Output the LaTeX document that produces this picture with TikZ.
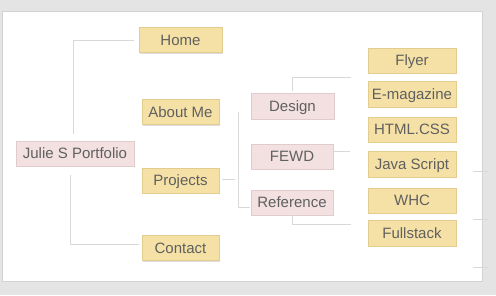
\documentclass[tikz,border=0pt]{standalone}
\usepackage{fontspec}
\setmainfont{Liberation Sans}
\usetikzlibrary{shadows}
\definecolor{pagebg}{HTML}{E4E4E4}
\definecolor{panelline}{HTML}{D2D2D2}
\definecolor{linkgray}{HTML}{D8D8D8}
\definecolor{txtgray}{HTML}{606060}
\definecolor{sandfill}{HTML}{F5E1A5}
\definecolor{sandline}{HTML}{E3CD8E}
\definecolor{rosefill}{HTML}{F3E0E1}
\definecolor{roseline}{HTML}{E2CBCC}
\tikzset{
  box/.style={draw, line width=0.8pt, inner sep=0pt, minimum height=25pt,
    text height=10.7pt, text depth=0pt,
    text=txtgray, font=\fontsize{15}{17}\selectfont,
    drop shadow={shadow xshift=0.8pt, shadow yshift=-1pt, fill=black!25, opacity=0.5}},
  sandbox/.style={box, fill=sandfill, draw=sandline},
  rosebox/.style={box, fill=rosefill, draw=roseline},
  conn/.style={draw=linkgray, line width=0.9pt},
}
\begin{document}
\begin{tikzpicture}[x=1pt, y=-1pt]
  % canvas and white panel
  \fill[pagebg] (0,0) rectangle (496,295);
  \useasboundingbox (0,0) rectangle (496,295);
  \filldraw[fill=white, draw=panelline, line width=0.8pt] (2,11) rectangle (482,281);

  % root
  \node[rosebox, minimum width=118pt] (julie) at (75,153.5) {Julie S Portfolio};

  % first level
  \node[sandbox, minimum width=83pt] (home) at (180.5,40) {Home};
  \node[sandbox, minimum width=77pt] (about) at (180.5,112) {About Me};
  \node[sandbox, minimum width=77pt] (projects) at (180.5,180.5) {Projects};
  \node[sandbox, minimum width=77pt] (contact) at (180.5,248) {Contact};

  % projects branch
  \node[rosebox, minimum width=83pt, minimum height=26pt] (design) at (292.5,106) {Design};
  \node[rosebox, minimum width=82pt] (fewd) at (292,156.5) {FEWD};
  \node[rosebox, minimum width=82pt] (reference) at (292,202.5) {Reference};

  % leaves
  \node[sandbox, minimum width=88pt] (flyer) at (412,60.5) {Flyer};
  \node[sandbox, minimum width=88pt, minimum height=26pt] (emag) at (412,94) {E-magazine};
  \node[sandbox, minimum width=88pt] (htmlcss) at (412,129.5) {HTML.CSS};
  \node[sandbox, minimum width=88pt, minimum height=26pt] (java) at (412,164) {Java Script};
  \node[sandbox, minimum width=88pt] (whc) at (412,200.5) {WHC};
  \node[sandbox, minimum width=88pt, minimum height=26pt] (fullstack) at (412,233) {Fullstack};

  % free ends of the connectors
  \coordinate (pbranch) at (238,112);
  \coordinate (designend) at (351,77);
  \coordinate (stubAa) at (473,171); \coordinate (stubAb) at (488,171);
  \coordinate (stubBa) at (473,219); \coordinate (stubBb) at (488,219);
  \coordinate (stubCa) at (473,267); \coordinate (stubCb) at (488,267);

  % connectors
  \draw[conn] ([xshift=-2pt, yshift=7pt]julie.north) |- ([xshift=-5pt]home.west);
  \draw[conn] ([xshift=-5pt, yshift=-9pt]julie.south) |- ([xshift=-3pt, yshift=4pt]contact.west);
  \draw[conn] ([xshift=3pt, yshift=1.5pt]projects.east) -- ++(13,0);
  \draw[conn] (pbranch) |- ([xshift=-1pt, yshift=-4.5pt]reference.west);
  \draw[conn] ([yshift=2pt]design.north) |- (designend);
  \draw[conn] ([yshift=5.5pt]fewd.east) -- ++(17,0);
  \draw[conn] (reference.south) |- ++(59,9);
  \draw[conn] (stubAa) -- (stubAb);
  \draw[conn] (stubBa) -- (stubBb);
  \draw[conn] (stubCa) -- (stubCb);
\end{tikzpicture}
\end{document}
